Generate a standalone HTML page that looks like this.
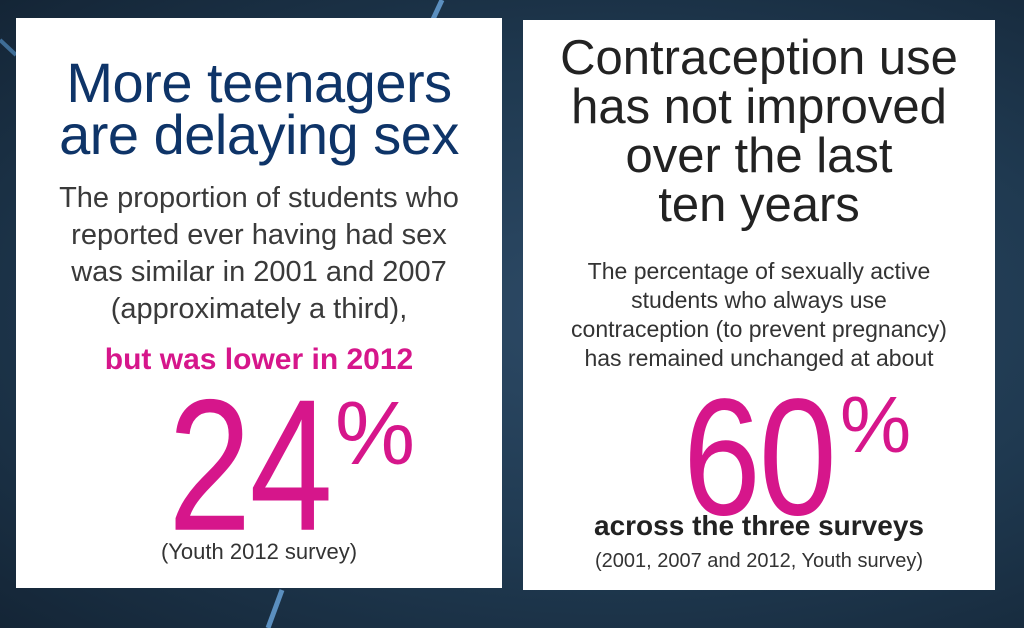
<!DOCTYPE html>
<html><head><meta charset="utf-8"><style>
body{margin:0;width:1024px;height:628px;overflow:hidden;position:relative;font-family:"Liberation Sans",sans-serif;
background:radial-gradient(ellipse at 60% 50%,#2d4a66 0%,#1f3950 55%,#142536 100%);}
.box{position:absolute;background:#fff;}
.t{position:absolute;left:0;right:0;text-align:center;white-space:nowrap;}
.a{position:absolute;white-space:nowrap;}
.title{color:#0e3468;font-size:56px;line-height:50px;letter-spacing:-0.5px;}
.rt{color:#222;font-size:49px;line-height:49px;}
.body{color:#3a3a3a;font-size:29px;line-height:37px;}
.rb{color:#333;font-size:23px;line-height:29px;}
.pink{color:#d6168b;}
</style></head><body>
<svg style="position:absolute;left:0;top:0" width="1024" height="628">
<line x1="442" y1="0" x2="428" y2="30" stroke="#5b8fbf" stroke-width="5"/>
<line x1="282" y1="590" x2="268" y2="628" stroke="#5b8fbf" stroke-width="5"/>
<line x1="0" y1="40" x2="16" y2="55" stroke="#3f6d96" stroke-width="4"/>
</svg>
<div class="box" style="left:16px;top:18px;width:486px;height:570px">
 <div class="t title" style="top:40px">More teenagers</div>
 <div class="t title" style="top:92px">are delaying sex</div>
 <div class="t body" style="top:162px">The proportion of students who<br>reported ever having had sex<br>was similar in 2001 and 2007<br>(approximately a third),</div>
 <div class="t pink" style="top:325px;font-size:30px;font-weight:bold">but was lower in 2012</div>
 <div class="a pink" style="left:152px;top:353px;font-size:150px;line-height:150px;letter-spacing:-2px;transform:scaleY(1.25);transform-origin:top left">24</div>
 <div class="a pink" style="left:319px;top:371px;font-size:90px;line-height:90px">%</div>
 <div class="t" style="top:521px;font-size:22px;color:#333">(Youth 2012 survey)</div>
</div>
<div class="box" style="left:523px;top:20px;width:472px;height:570px">
 <div class="t rt" style="top:14px">Contraception use<br>has not improved<br>over the last<br>ten years</div>
 <div class="t rb" style="top:237px">The percentage of sexually active<br>students who always use<br>contraception (to prevent pregnancy)<br>has remained unchanged at about</div>
 <div class="a pink" style="left:160px;top:354px;font-size:140px;line-height:140px;letter-spacing:-2px;transform:scaleY(1.19);transform-origin:top left">60</div>
 <div class="a pink" style="left:317px;top:365px;font-size:80px;line-height:80px">%</div>
 <div class="t" style="top:490px;font-size:28px;font-weight:bold;color:#222">across the three surveys</div>
 <div class="t" style="top:530px;font-size:20px;color:#333">(2001, 2007 and 2012, Youth survey)</div>
</div>
</body></html>
